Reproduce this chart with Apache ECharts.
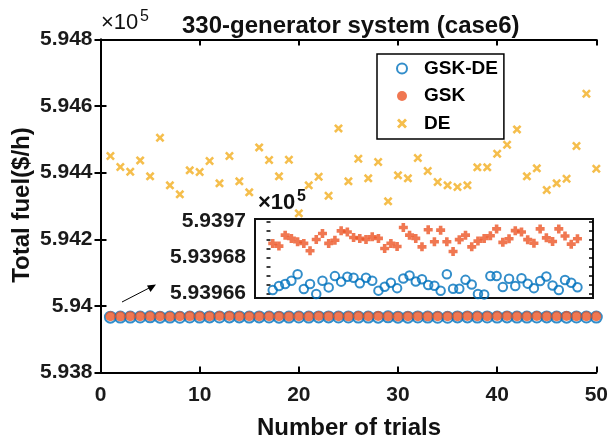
<!DOCTYPE html>
<html><head><meta charset="utf-8">
<script src="https://cdn.jsdelivr.net/npm/echarts@6/dist/echarts.min.js"></script>
<style>html,body{margin:0;padding:0;background:#fff}#c{width:611px;height:442px}</style>
</head><body><div id="c"></div>
<script>
// ---- data ----
const trials = [1,2,3,4,5,6,7,8,9,10,11,12,13,14,15,16,17,18,19,20,21,22,23,24,25,26,27,28,29,30,31,32,33,34,35,36,37,38,39,40,41,42,43,44,45,46,47,48,49,50];
const deFuel = [594450,594417,594403,594437,594389,594505,594362,594335,594407,594402,594435,594368,594450,594374,594341,594476,594438,594389,594439,594278,594362,594388,594331,594533,594374,594442,594383,594432,594314,594392,594383,594444,594405,594372,594362,594357,594362,594416,594416,594457,594484,594530,594389,594413,594348,594368,594382,594480,594637,594412];
const gskdeFuel = [593966.19,593966.42,593966.53,593966.71,593967.07,593966.25,593966.53,593965.97,593966.71,593966.34,593966.97,593966.66,593966.93,593966.88,593966.57,593966.88,593966.71,593966.16,593966.38,593966.60,593966.30,593966.84,593967.00,593966.67,593966.79,593966.47,593966.43,593966.15,593967.07,593966.27,593966.27,593966.76,593966.50,593965.97,593965.95,593966.98,593966.98,593966.36,593966.82,593966.42,593966.85,593966.55,593966.30,593966.70,593966.95,593966.45,593966.20,593966.75,593966.60,593966.35];
const gskFuel = [593968.79,593968.64,593969.25,593969.07,593968.88,593968.79,593968.38,593969.01,593969.34,593968.79,593968.97,593969.49,593969.43,593969.12,593969.07,593969.01,593969.16,593969.07,593968.51,593968.79,593968.62,593969.68,593969.25,593969.07,593968.60,593969.55,593968.88,593969.53,593968.88,593968.34,593969.00,593969.25,593968.60,593968.92,593969.07,593969.22,593969.60,593968.85,593969.05,593969.50,593969.43,593969.00,593968.80,593969.60,593969.10,593968.90,593969.60,593969.20,593968.75,593969.05];
const mainYTicks = [593800, 594800, 200];
const insetLabelValues = [593966, 593968, 593970];
const insetTickValues = [593966, 593966.5, 593967, 593967.5, 593968, 593968.5, 593969, 593969.5, 593970];
const names = ['GSK-DE', 'GSK', 'DE'];

// ---- helpers ----
const FONT = '"Liberation Sans", Arial, sans-serif';
const zip = (xs, ys) => xs.map((x, i) => [x, ys[i]]);
const fmt = d => v => String(parseFloat((v / 1e5).toFixed(d)));
const BLUE = '#0072BD', RED = '#EC5525', YEL = '#F2AE1F';
const xPath = 'path://M0,2 L2,0 L5,3 L8,0 L10,2 L7,5 L10,8 L8,10 L5,7 L2,10 L0,8 L3,5 Z';
const plusPath = 'path://M3,0 L7,0 L7,3 L10,3 L10,7 L7,7 L7,10 L3,10 L3,7 L0,7 L0,3 L3,3 Z';
const axLine = {lineStyle: {color: '#000', width: 2}};
const tick = {inside: true, length: 6, lineStyle: {color: '#000', width: 2}};
const lab = {fontSize: 21, fontWeight: 'bold', color: '#1a1a1a', fontFamily: FONT};

const chart = echarts.init(document.getElementById('c'));
chart.setOption({
  backgroundColor: '#fff',
  animation: false,
  title: {text: '330-generator system (case6)', left: 177, top: 9,
    textStyle: {fontSize: 24, fontWeight: 'bold', color: '#111', fontFamily: FONT}},
  legend: {
    data: names, orient: 'vertical', left: 377, top: 54,
    padding: [5, 6, 6, 19], itemGap: 8.5, itemWidth: 10, itemHeight: 10,
    borderColor: '#000', borderWidth: 1.5, backgroundColor: '#fff',
    textStyle: {fontSize: 19, fontWeight: 'bold', color: '#000', fontFamily: FONT, lineHeight: 16, padding: [0, 0, 0, 12]}
  },
  grid: [
    {left: 100.5, top: 39.5, width: 497, height: 333},
    {left: 255, top: 219, width: 338, height: 79, show: true, backgroundColor: '#fff', borderColor: '#111', borderWidth: 2}
  ],
  xAxis: [
    {gridIndex: 0, type: 'value', min: 0, max: 50, interval: 10, position: 'bottom',
      axisLine: axLine, axisTick: tick, splitLine: {show: false},
      axisLabel: Object.assign({margin: 12}, lab)},
    {gridIndex: 0, type: 'value', min: 0, max: 50, interval: 10, position: 'top',
      axisLine: axLine, axisTick: tick, splitLine: {show: false}, axisLabel: {show: false}},
    {gridIndex: 1, type: 'value', min: -1.85, max: 52.5, axisLine: {show: false},
      axisTick: {show: false}, axisLabel: {show: false}, splitLine: {show: false}}
  ],
  yAxis: [
    {gridIndex: 0, type: 'value', min: mainYTicks[0], max: mainYTicks[1], interval: mainYTicks[2], position: 'left',
      axisLine: axLine, axisTick: tick, splitLine: {show: false},
      axisLabel: Object.assign({margin: 8, formatter: fmt(3)}, lab)},
    {gridIndex: 0, type: 'value', min: mainYTicks[0], max: mainYTicks[1], interval: mainYTicks[2], position: 'right',
      axisLine: axLine, axisTick: tick, splitLine: {show: false}, axisLabel: {show: false}},
    {gridIndex: 1, type: 'value', min: 593965.75, max: 593970.15, position: 'left',
      axisLine: {show: false}, splitLine: {show: false},
      axisTick: {inside: true, length: 4, customValues: insetTickValues, lineStyle: {color: '#000', width: 1.5}},
      axisLabel: Object.assign({margin: 9, formatter: fmt(5), customValues: insetLabelValues}, lab)},
    {gridIndex: 1, type: 'value', min: 593965.75, max: 593970.15, position: 'right',
      axisLine: {show: false}, splitLine: {show: false},
      axisTick: {inside: true, length: 4, customValues: insetTickValues, lineStyle: {color: '#000', width: 1.5}},
      axisLabel: {show: false}}
  ],
  series: [
    {name: 'GSK-DE', type: 'scatter', xAxisIndex: 0, yAxisIndex: 0, data: zip(trials, gskdeFuel),
      symbol: 'circle', symbolSize: 11, itemStyle: {color: 'rgba(255,255,255,0)', borderColor: BLUE, borderWidth: 2}, z: 3},
    {name: 'GSK', type: 'scatter', xAxisIndex: 0, yAxisIndex: 0, data: zip(trials, gskFuel),
      symbol: 'circle', symbolSize: 10, itemStyle: {color: RED}, z: 4},
    {name: 'DE', type: 'scatter', xAxisIndex: 0, yAxisIndex: 0, data: zip(trials, deFuel),
      symbol: xPath, symbolSize: 9, itemStyle: {color: YEL}, z: 5},
    {name: 'GSK-DE', type: 'scatter', xAxisIndex: 2, yAxisIndex: 2, data: zip(trials, gskdeFuel),
      symbol: 'circle', symbolSize: 8.5, itemStyle: {color: 'rgba(255,255,255,0)', borderColor: BLUE, borderWidth: 2}, z: 6},
    {name: 'GSK', type: 'scatter', xAxisIndex: 2, yAxisIndex: 2, data: zip(trials, gskFuel),
      symbol: plusPath, symbolSize: 9, itemStyle: {color: RED}, z: 6}
  ],
  graphic: [
    {type: 'text', x: 22, y: 205, rotation: Math.PI / 2,
      style: {text: 'Total fuel($/h)', fontSize: 24, fontWeight: 'bold', fontFamily: FONT, fill: '#111', align: 'center', verticalAlign: 'middle'}},
    {type: 'text', x: 349, y: 428,
      style: {text: 'Number of trials', fontSize: 24, fontWeight: 'bold', fontFamily: FONT, fill: '#111', align: 'center', verticalAlign: 'middle'}},
    {type: 'text', x: 101, y: 34,
      style: {text: '×10', fontSize: 22, fontFamily: FONT, fill: '#111', verticalAlign: 'bottom'}},
    {type: 'text', x: 140, y: 25,
      style: {text: '5', fontSize: 16, fontFamily: FONT, fill: '#111', verticalAlign: 'bottom'}},
    {type: 'text', x: 258, y: 214, z: 10,
      style: {text: '×10', fontSize: 22, fontWeight: 'bold', fontFamily: FONT, fill: '#111', verticalAlign: 'bottom'}},
    {type: 'text', x: 297, y: 205, z: 10,
      style: {text: '5', fontSize: 16, fontWeight: 'bold', fontFamily: FONT, fill: '#111', verticalAlign: 'bottom'}},
    {type: 'line', shape: {x1: 122, y1: 302, x2: 153, y2: 286}, style: {stroke: '#000', lineWidth: 1}},
    {type: 'polygon', shape: {points: [[156, 284.5], [147, 285.5], [150.5, 292]]}, style: {fill: '#000'}}
  ]
});
</script></body></html>
